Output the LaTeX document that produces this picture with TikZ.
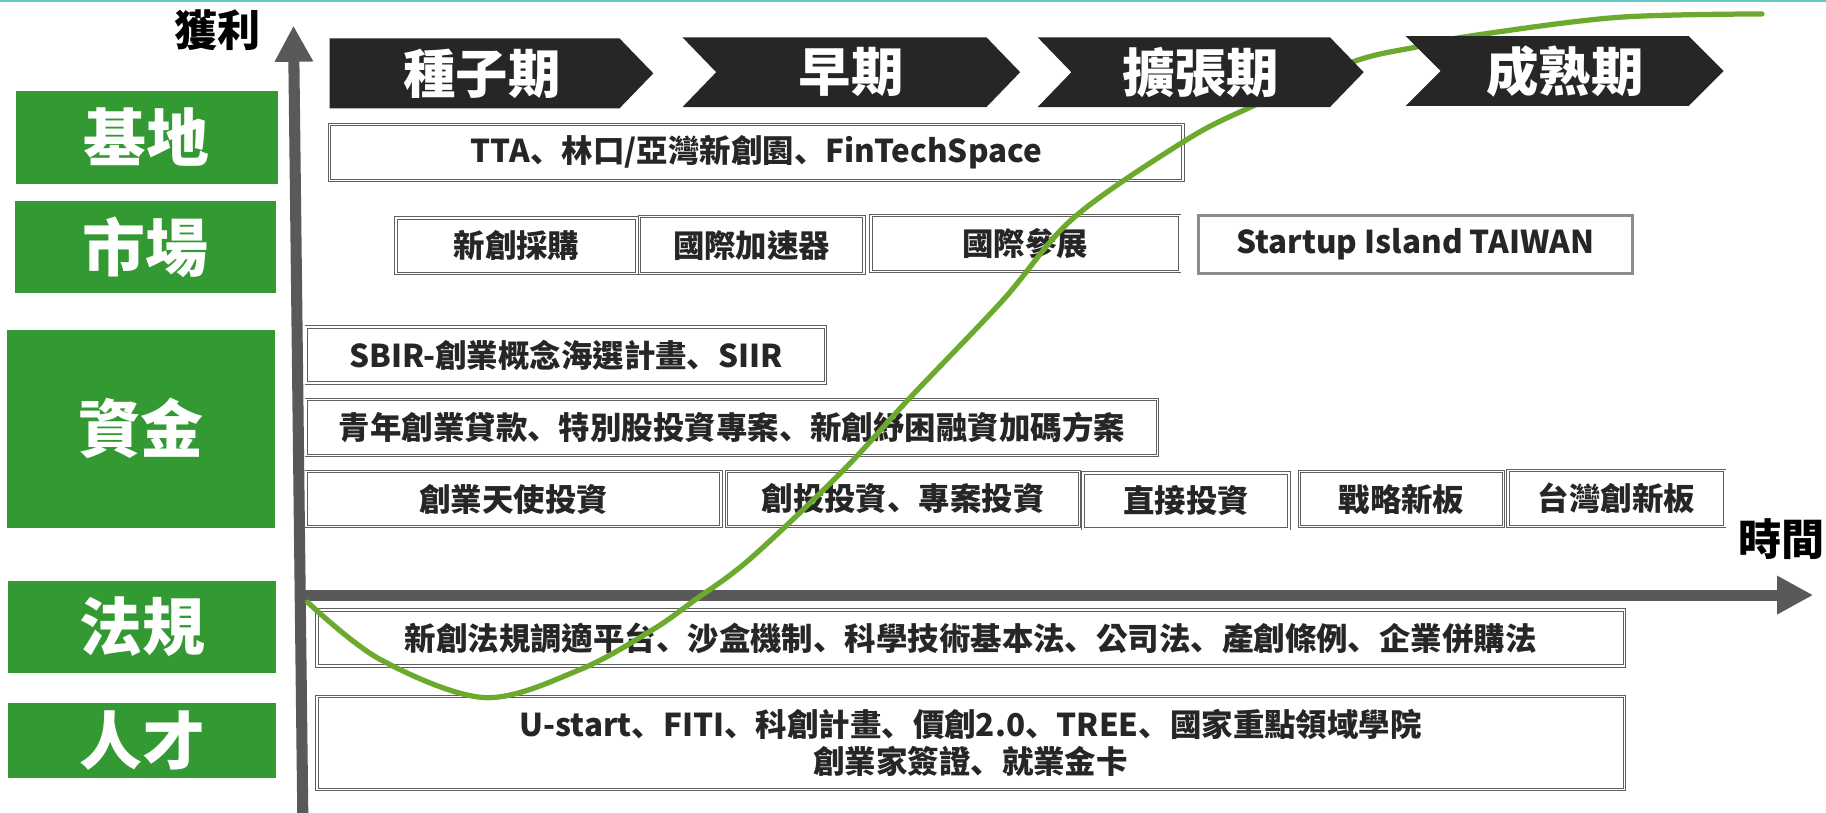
\documentclass[tikz,border=0pt]{standalone}
\usepackage{fontspec}
\setmainfont{Noto Sans CJK TC}
\newfontfamily\scpunct{Noto Sans CJK SC}
\newcommand{\dnh}{{\scpunct 、}}
\usetikzlibrary{arrows.meta}
\definecolor{catgreen}{RGB}{51,153,51}
\definecolor{chevdark}{RGB}{38,38,38}
\definecolor{axisgray}{RGB}{89,89,89}
\definecolor{curvegreen}{RGB}{108,170,46}
\definecolor{boxline}{RGB}{95,95,95}
\definecolor{txtdark}{RGB}{38,38,38}
\definecolor{topteal}{RGB}{100,200,190}
\definecolor{islandgray}{RGB}{140,140,140}
\begin{document}
\begin{tikzpicture}[x=1pt,y=-1pt,
  cat/.style={fill=catgreen, text=white, font=\bfseries\fontsize{54}{60}\selectfont, inner sep=0pt},
  stagetxt/.style={text=white, font=\bfseries\fontsize{45}{50}\selectfont, inner sep=0pt},
  chev/.style={fill=chevdark},
  box/.style={draw=boxline, double=white, double distance=1.4pt, line width=0.8pt, fill=white, text=txtdark, font=\bfseries\fontsize{27}{32}\selectfont, inner sep=0pt, align=center},
  islandbox/.style={draw=islandgray, line width=3pt, fill=white, text=txtdark, font=\bfseries\fontsize{27}{32}\selectfont, inner sep=0pt},
  axislbl/.style={text=black, font=\bfseries\fontsize{37}{42}\selectfont, inner sep=0pt},
  axisline/.style={draw=axisgray, line width=9.5pt, -{Triangle[width=31pt,length=31pt]}},
  sgrowth/.style={draw=curvegreen, line width=4.5pt, line cap=round}
]
\useasboundingbox (0,0) rectangle (1568,698);
\fill[white] (0,0) rectangle (1568,698);
\draw[topteal, line width=1.5pt] (0,0.75) -- (1568,0.75);

% category boxes
\node[cat, minimum width=225pt, minimum height=80pt] (jidi) at (126,118) {基地};
\node[cat, minimum width=224pt, minimum height=79pt] (shichang) at (125,212) {市場};
\node[cat, minimum width=230pt, minimum height=170pt] (zijin) at (121,368) {資金};
\node[cat, minimum width=230pt, minimum height=79pt] (fagui) at (122,538.5) {法規};
\node[cat, minimum width=230pt, minimum height=64pt] (rencai) at (122,636) {人才};

% content boxes
\node[box, minimum width=733pt, minimum height=48pt] (tta) at (649.5,131) {TTA\dnh 林口/亞灣新創園\dnh FinTechSpace};
\node[box, minimum width=207pt, minimum height=48pt] (caigou) at (443.5,211) {新創採購};
\node[box, minimum width=193pt, minimum height=49pt] (jiasu) at (645.5,210.5) {國際加速器};
\node[box, minimum width=265pt, minimum height=48pt] (canzhan) at (880.5,209) {國際參展};
\node[islandbox, minimum width=373pt, minimum height=50pt] (island) at (1215.5,210) {Startup Island TAIWAN};
\node[box, minimum width=446pt, minimum height=48pt] (sbir) at (486,305) {SBIR-創業概念海選計畫\dnh SIIR};
\node[box, minimum width=731pt, minimum height=48pt] (qingnian) at (628.5,367) {青年創業貸款\dnh 特別股投資專案\dnh 新創紓困融資加碼方案};
\node[box, minimum width=356pt, minimum height=47pt] (tianshi) at (441,428.5) {創業天使投資};
\node[box, minimum width=303pt, minimum height=47pt] (chuangtou) at (775.5,428.5) {創投投資\dnh 專案投資};
\node[box, minimum width=177pt, minimum height=48pt] (zhijie) at (1018.5,430) {直接投資};
\node[box, minimum width=175pt, minimum height=47pt] (zhanlue) at (1203.5,428.5) {戰略新板};
\node[box, minimum width=186pt, minimum height=48pt] (twban) at (1388,428) {台灣創新板};
\node[box, minimum width=1123pt, minimum height=48pt] (law) at (833.5,548) {新創法規調適平台\dnh 沙盒機制\dnh 科學技術基本法\dnh 公司法\dnh 產創條例\dnh 企業併購法};
\node[box, minimum width=1123pt, minimum height=80pt] (talent) at (833.5,638) {U-start\dnh FITI\dnh 科創計畫\dnh 價創2.0\dnh TREE\dnh 國家重點領域學院\\創業家簽證\dnh 就業金卡};

% axes
\coordinate (yaxbottom) at (260,698);
\coordinate (yaxtip) at (252,22);
\coordinate (xaxstart) at (256,511);
\coordinate (xaxtip) at (1557,511);
\draw[axisline] (yaxbottom) -- (yaxtip);
\draw[axisline] (xaxstart) -- (xaxtip);

% growth curve
\draw[sgrowth] plot[smooth, tension=0.55] coordinates {(264,517) (326,566) (416,599) (498,575) (560,541) (597,515) (644,480) (723,405) (781,342) (861,258) (922,187) (1019,120) (1076,91) (1162,53) (1218,40) (1262,31) (1388,15) (1513,12)};

% stage chevrons
\fill[chev] (283,33) -- (532,33) -- (561,63) -- (532,93) -- (283,93) -- cycle;
\fill[chev] (586,32) -- (847,32) -- (876,62) -- (847,92) -- (586,92) -- (615,62) -- cycle;
\fill[chev] (891,32) -- (1142,32) -- (1171,62) -- (1142,92) -- (891,92) -- (920,62) -- cycle;
\fill[chev] (1207,31) -- (1450,31) -- (1480,61) -- (1450,91) -- (1207,91) -- (1237,61) -- cycle;
\node[stagetxt] (seed) at (414,63) {種子期};
\node[stagetxt] (early) at (731,62) {早期};
\node[stagetxt] (expand) at (1031,62) {擴張期};
\node[stagetxt] (mature) at (1344,61) {成熟期};

% axis labels
\node[axislbl] (profit) at (187,26) {獲利};
\node[axislbl] (timelbl) at (1530,463) {時間};
\end{tikzpicture}
\end{document}
